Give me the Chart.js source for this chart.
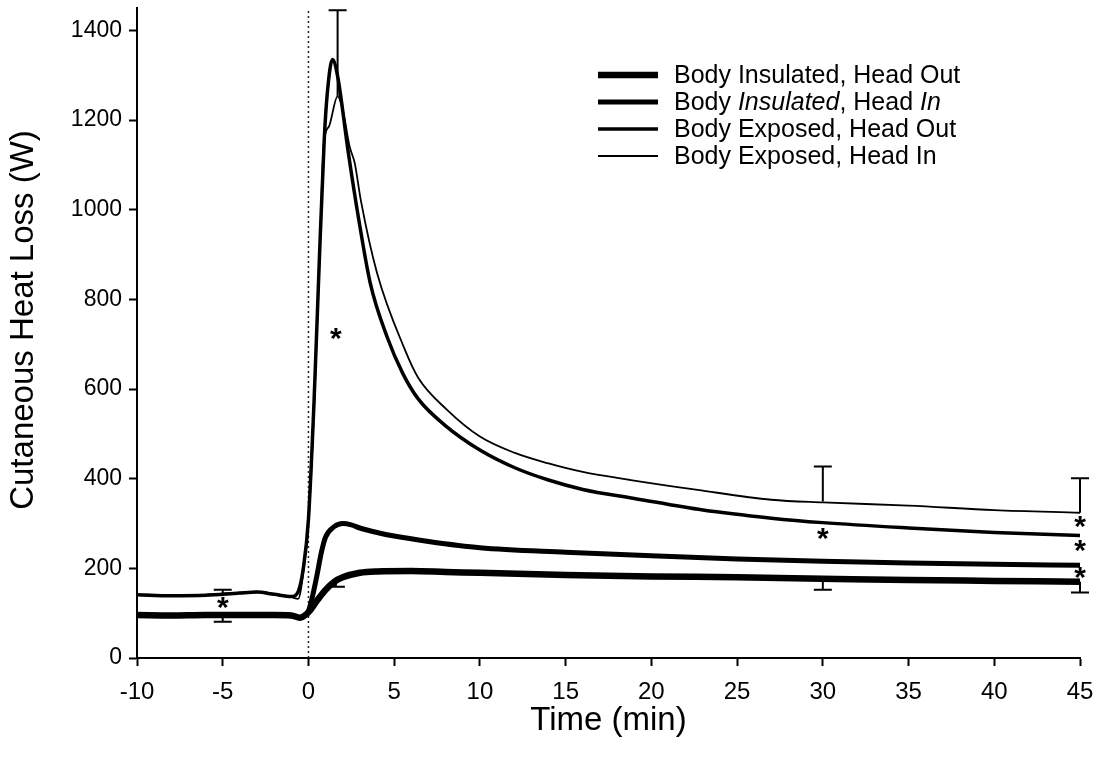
<!DOCTYPE html>
<html lang="en">
<head>
  <meta charset="UTF-8">
  <title>Cutaneous Heat Loss</title>
  <script src="https://cdn.jsdelivr.net/npm/chart.js"></script>
  <style>
    html, body { margin: 0; padding: 0; background: #fff; }
    #wrap { width: 1103px; height: 759px; }
  </style>
</head>
<body>
  <div id="wrap"><canvas id="heat-chart" width="1103" height="759"></canvas></div>

  <script>
    // Body Insulated, Head Out
    const tInsOut = [-10, -8, -6, -4, -2, -1, -0.5, 0, 0.5, 1, 1.5, 2, 3, 4, 6, 8, 10, 15, 20, 25, 30, 35, 40, 45];
    const vInsOut = [96, 95, 96, 96, 96, 95, 90, 102, 128, 152, 170, 180, 190, 193, 194, 192, 190, 185, 182, 180, 177, 174, 172, 170];

    // Body Insulated, Head In
    const tInsIn = [-10, -8, -6, -4, -2, -1, -0.5, 0, 0.25, 0.5, 0.75, 1, 1.5, 2, 2.5, 3, 4, 5, 7, 10, 15, 20, 25, 30, 35, 40, 45];
    const vInsIn = [96, 95, 96, 96, 96, 95, 90, 105, 140, 185, 235, 270, 293, 300, 297, 290, 280, 272, 260, 246, 236, 228, 221, 216, 212, 209, 207];

    // Body Exposed, Head Out
    const tExpOut = [-10, -8, -6, -4, -3, -2, -1, -0.6, -0.3, 0, 0.33, 0.62, 0.92, 1.1, 1.4, 1.7, 2.3, 2.9, 3.6, 4.6, 5.5, 6.4, 8, 10, 12, 14, 16, 19, 23, 27, 30, 35, 40, 45];
    const vExpOut = [141, 139, 140, 145, 147, 142, 137, 148, 200, 310, 576, 873, 1156, 1260, 1335, 1298, 1134, 986, 837, 715, 635, 578, 518, 464, 425, 397, 376, 356, 330, 312, 302, 290, 280, 273];

    // Body Exposed, Head In
    const tExpIn = [-10, -8, -6, -4, -3, -2, -1, -0.6, -0.3, 0, 0.33, 0.62, 0.9, 1.2, 1.7, 2.0, 2.4, 2.7, 3.05, 4.0, 5.6, 6.4, 8.1, 10, 12, 14, 16, 18.8, 22.7, 27, 30, 35, 40, 45];
    const vExpIn = [142, 140, 141, 146, 148, 143, 136, 132, 190, 300, 560, 860, 1150, 1186, 1253, 1223, 1141, 1104, 1022, 859, 690, 625, 553, 494, 458, 434, 415, 397, 375, 353, 347, 340, 330, 324];

    // error bars: x, start value, end value (cap at end)
    const errX = [-5, -5, 1.7, 1.6, 30, 30, 45, 45];
    const errFrom = [143, 95, 1253, 172, 349, 177, 324, 170];
    const errTo = [152, 81, 1445, 159, 427, 152, 401, 146];

    // significance asterisks
    const starX = [-5, 1.6, 30, 45, 45, 45];
    const starY = [118, 717, 270, 297, 245, 185];

    const xTicks = [-10, -5, 0, 5, 10, 15, 20, 25, 30, 35, 40, 45];
    const yTicks = [0, 200, 400, 600, 800, 1000, 1200, 1400];

    const FONT = '"Liberation Sans", Arial, sans-serif';

    function toPoints(t, v) {
      return t.map((x, i) => ({ x: x, y: v[i] }));
    }

    const curves = [
      { label: 'Body Insulated, Head Out', t: tInsOut, v: vInsOut, width: 6.5 },
      { label: 'Body Insulated, Head In', t: tInsIn, v: vInsIn, width: 5 },
      { label: 'Body Exposed, Head Out', t: tExpOut, v: vExpOut, width: 3.5 },
      { label: 'Body Exposed, Head In', t: tExpIn, v: vExpIn, width: 1.8 }
    ];

    const datasets = curves.map(c => ({
      label: c.label,
      data: toPoints(c.t, c.v),
      borderColor: '#000',
      borderWidth: c.width,
      pointRadius: 0,
      fill: false,
      cubicInterpolationMode: 'monotone'
    }));

    // dotted marker at time zero
    datasets.push({
      label: 'zero',
      data: [{ x: 0, y: 0 }, { x: 0, y: 1450 }],
      borderColor: '#222',
      borderWidth: 1.5,
      borderDash: [2, 3],
      pointRadius: 0,
      tension: 0
    });

    const errorBars = {
      id: 'errorBars',
      afterDatasetsDraw(chart) {
        const { ctx, scales: { x, y } } = chart;
        ctx.save();
        ctx.strokeStyle = '#000';
        ctx.lineWidth = 2;
        errX.forEach((ex, i) => {
          const px = x.getPixelForValue(ex);
          const y1 = y.getPixelForValue(errFrom[i]);
          const y2 = y.getPixelForValue(errTo[i]);
          ctx.beginPath();
          ctx.moveTo(px, y1);
          ctx.lineTo(px, y2);
          ctx.moveTo(px - 9, y2);
          ctx.lineTo(px + 9, y2);
          ctx.stroke();
        });
        ctx.font = 'bold 30px ' + FONT;
        ctx.fillStyle = '#000';
        ctx.textAlign = 'center';
        ctx.textBaseline = 'alphabetic';
        starX.forEach((sx, i) => {
          ctx.fillText('*', x.getPixelForValue(sx), y.getPixelForValue(starY[i]) + 11.5);
        });
        ctx.restore();
      }
    };

    // legend drawn inside the plot, some words in italics as in the original
    const legendParts = [
      [['Body Insulated, Head Out', false]],
      [['Body ', false], ['Insulated', true], [', Head ', false], ['In', true]],
      [['Body Exposed, Head Out', false]],
      [['Body Exposed, Head In', false]]
    ];

    const insideLegend = {
      id: 'insideLegend',
      afterDraw(chart) {
        const ctx = chart.ctx;
        ctx.save();
        ctx.strokeStyle = '#000';
        ctx.fillStyle = '#000';
        ctx.textBaseline = 'middle';
        ctx.textAlign = 'left';
        legendParts.forEach((parts, i) => {
          const rowY = 75 + i * 27;
          ctx.lineWidth = curves[i].width;
          ctx.beginPath();
          ctx.moveTo(598, rowY);
          ctx.lineTo(658, rowY);
          ctx.stroke();
          let tx = 674;
          parts.forEach(([txt, italic]) => {
            ctx.font = (italic ? 'italic ' : '') + '25px ' + FONT;
            ctx.fillText(txt, tx, rowY + 1);
            tx += ctx.measureText(txt).width;
          });
        });

        // y axis title, placed as in the original (slightly above centre)
        ctx.font = '33px ' + FONT;
        ctx.textAlign = 'center';
        ctx.textBaseline = 'middle';
        ctx.translate(24, 320);
        ctx.rotate(-Math.PI / 2);
        ctx.fillText('Cutaneous Heat Loss (W)', 0, 0);
        ctx.restore();
      }
    };

    new Chart(document.getElementById('heat-chart'), {
      type: 'line',
      data: { datasets: datasets },
      options: {
        responsive: false,
        animation: false,
        layout: { padding: { top: 8, right: 23, left: 0, bottom: 0 } },
        plugins: {
          legend: { display: false },
          tooltip: { enabled: false }
        },
        scales: {
          x: {
            type: 'linear',
            min: -10,
            max: 45,
            afterBuildTicks: s => { s.ticks = xTicks.map(v => ({ value: v })); },
            afterFit: s => { s.height = 101; s.paddingLeft = 0; s.paddingRight = 0; },
            ticks: { color: '#000', padding: 12, font: { family: FONT, size: 24 }, callback: v => String(v) },
            grid: { drawOnChartArea: false, drawTicks: true, tickLength: 8, tickWidth: 2, color: '#000' },
            border: { display: true, color: '#000', width: 2 },
            title: { display: true, text: 'Time (min)', color: '#000', font: { family: FONT, size: 33 }, padding: { top: 0, bottom: 18 } }
          },
          y: {
            type: 'linear',
            min: 0,
            max: 1450,
            afterBuildTicks: s => { s.ticks = yTicks.map(v => ({ value: v })); },
            afterFit: s => { s.width = 137; s.paddingTop = 0; s.paddingBottom = 0; },
            ticks: { color: '#000', padding: 7, font: { family: FONT, size: 23 }, callback: v => String(v) },
            grid: { drawOnChartArea: false, drawTicks: true, tickLength: 8, tickWidth: 2, color: '#000' },
            border: { display: true, color: '#000', width: 2 }
          }
        }
      },
      plugins: [errorBars, insideLegend]
    });
  </script>
</body>
</html>
